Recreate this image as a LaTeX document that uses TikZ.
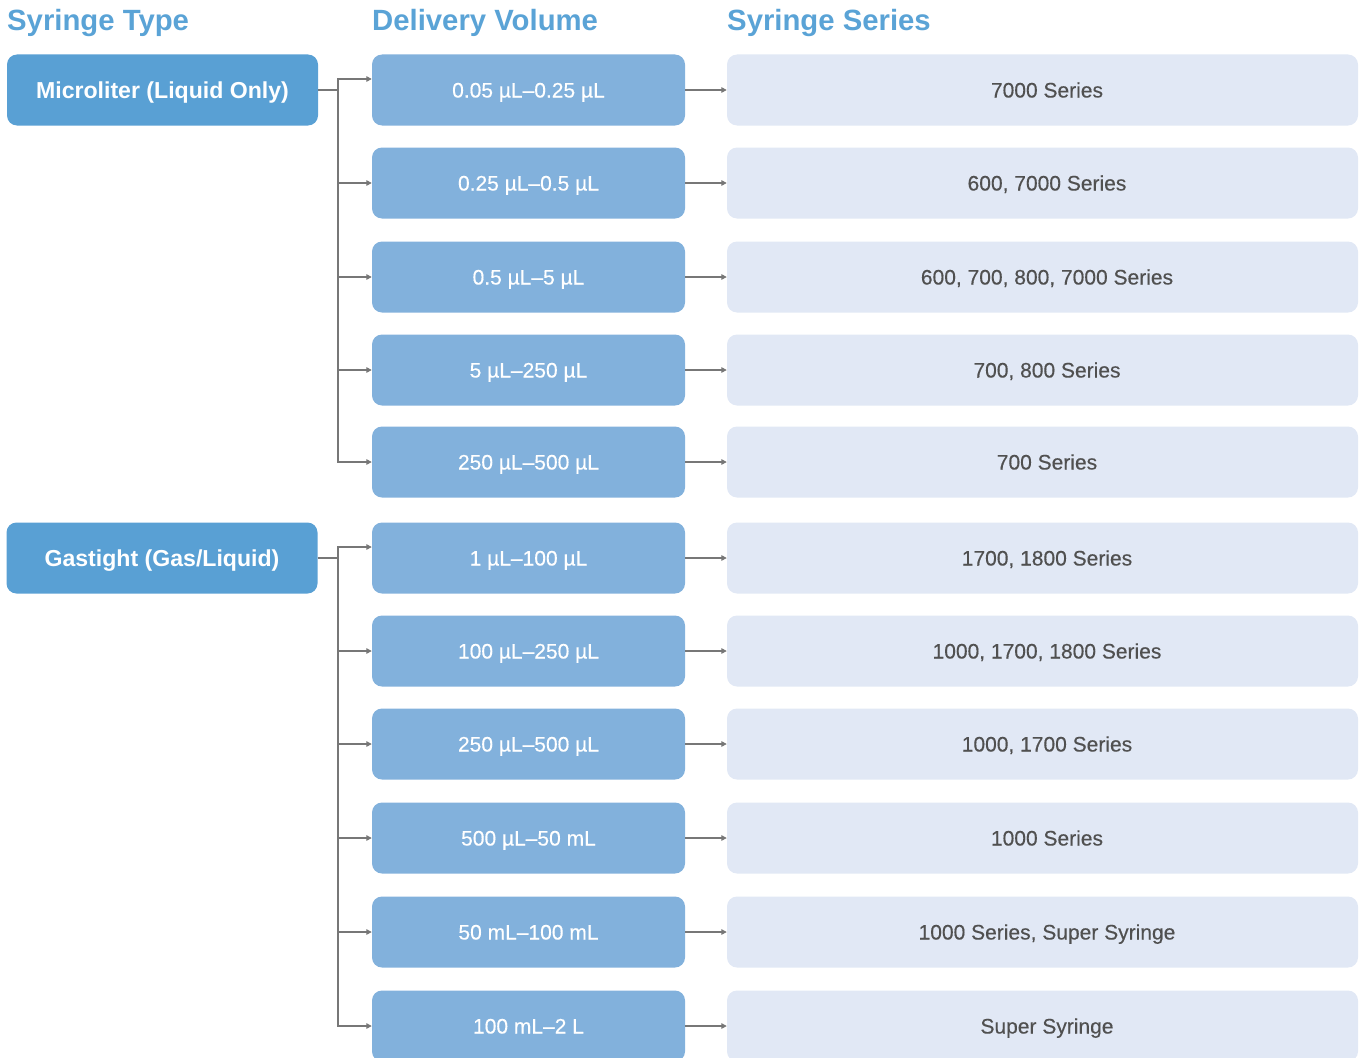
\documentclass[tikz,border=0pt]{standalone}
\usepackage{fontspec}
\setmainfont{Liberation Sans}
\newfontfamily\medfont[FakeBold=0.35]{Liberation Sans}
\usetikzlibrary{arrows.meta}
\definecolor{headblue}{HTML}{5AA3D6}
\definecolor{typeblue}{HTML}{59A0D4}
\definecolor{volblue}{HTML}{82B1DC}
\definecolor{serfill}{HTML}{E1E8F5}
\definecolor{sertext}{HTML}{505050}
\definecolor{linkgray}{HTML}{777777}
\tikzset{
  header/.style={anchor=base west, text=headblue, font=\fontsize{29.3}{32}\selectfont\bfseries, inner sep=0pt},
  typebox/.style={text height=16.5pt, text depth=0pt, inner sep=0pt, fill=typeblue, rounded corners=10pt, minimum width=311pt, minimum height=71pt, text=white, font=\fontsize{23.1}{26}\selectfont\bfseries},
  volbox/.style={text height=15pt, text depth=0pt, inner sep=0pt, fill=volblue, rounded corners=10pt, minimum width=313pt, minimum height=71pt, text=white, font=\fontsize{21}{24}\medfont},
  serbox/.style={text height=15pt, text depth=0pt, inner sep=0pt, fill=serfill, rounded corners=10pt, minimum width=631pt, minimum height=71pt, text=sertext, font=\fontsize{21}{24}\medfont},
  link/.style={draw=linkgray, line width=1.5pt, -{Triangle[length=5.5pt,width=5.5pt]}},
  trunk/.style={draw=linkgray, line width=1.5pt}
}
\begin{document}
\begin{tikzpicture}[x=1pt,y=-1pt]
\useasboundingbox (0,0) rectangle (1359,1057);
% column headers
\node[header] (h1) at (7,31) {Syringe Type};
\node[header] (h2) at (372,31) {Delivery Volume};
\node[header] (h3) at (727,31) {Syringe Series};
% syringe types
\node[typebox] (micro) at (162.5,90) {Microliter (Liquid Only)};
\node[typebox] (gas) at (162,558) {Gastight (Gas/Liquid)};
% delivery volumes and series, row by row
\foreach \i/\y/\vol/\ser in {
  1/90/{0.05 µL–0.25 µL}/{7000 Series},
  2/183/{0.25 µL–0.5 µL}/{600, 7000 Series},
  3/277/{0.5 µL–5 µL}/{600, 700, 800, 7000 Series},
  4/370/{5 µL–250 µL}/{700, 800 Series},
  5/462/{250 µL–500 µL}/{700 Series},
  6/558/{1 µL–100 µL}/{1700, 1800 Series},
  7/651/{100 µL–250 µL}/{1000, 1700, 1800 Series},
  8/744/{250 µL–500 µL}/{1000, 1700 Series},
  9/838/{500 µL–50 mL}/{1000 Series},
  10/932/{50 mL–100 mL}/{1000 Series, Super Syringe},
  11/1026/{100 mL–2 L}/{Super Syringe}} {
  \node[volbox] (v\i) at (528.5,\y) {\vol};
  \node[serbox] (s\i) at (1042.5,\y) {\hspace*{9pt}\ser};
  \draw[link] (v\i.east) -- (s\i.west);
}
% branch points of the two trees
\coordinate (mj) at (338,90);
\coordinate (gj) at (338,558);
\coordinate (mt) at (338,79);
\coordinate (gt) at (338,547);
% microliter tree
\draw[trunk] (micro.east) -- (mj);
\draw[link] (mj) -- (mt) -- (v1.west |- mt);
\foreach \i in {2,3,4,5} {
  \draw[link] (mj) |- (v\i.west);
}
% gastight tree
\draw[trunk] (gas.east) -- (gj);
\draw[link] (gj) -- (gt) -- (v6.west |- gt);
\foreach \i in {7,8,9,10,11} {
  \draw[link] (gj) |- (v\i.west);
}
\end{tikzpicture}
\end{document}
